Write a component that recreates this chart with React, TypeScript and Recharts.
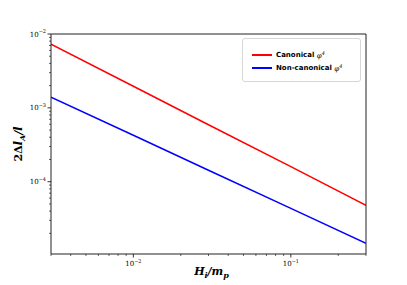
import React from 'react';
import { LineChart, Line, XAxis, YAxis, Legend } from 'recharts';

// H_i / m_p
const hValues = [0.003, 0.01, 0.03, 0.1, 0.3];
const canonical = [7.3e-3, 1.96e-3, 5.9e-4, 1.6e-4, 4.8e-5];
const nonCanonical = [1.4e-3, 4.25e-4, 1.43e-4, 4.35e-5, 1.47e-5];

const xTicks = [
  0.003, 0.004, 0.005, 0.006, 0.007, 0.008, 0.009,
  0.01, 0.02, 0.03, 0.04, 0.05, 0.06, 0.07, 0.08, 0.09,
  0.1, 0.2, 0.3,
];
const yTicks = [
  2e-5, 3e-5, 4e-5, 5e-5, 6e-5, 7e-5, 8e-5, 9e-5,
  1e-4, 2e-4, 3e-4, 4e-4, 5e-4, 6e-4, 7e-4, 8e-4, 9e-4,
  1e-3, 2e-3, 3e-3, 4e-3, 5e-3, 6e-3, 7e-3, 8e-3, 9e-3,
  1e-2,
];

const data = hValues.map((h, i) => ({ h, canonical: canonical[i], nonCanonical: nonCanonical[i] }));

const serif = '"DejaVu Serif", "Liberation Serif", serif';

const isDecade = (v: number) => Math.abs(Math.log10(v) - Math.round(Math.log10(v))) < 1e-6;
const expText = (v: number) => String(Math.round(Math.log10(v))).replace('-', '\u2212');

const XTick = ({ x, y, payload }: any) => {
  const major = isDecade(payload.value);
  return (
    <g>
      <line x1={x} x2={x} y1={y} y2={y + (major ? 3.5 : 2)} stroke="#000" strokeWidth={major ? 0.8 : 0.6} />
      {major && (
        <text x={x} y={y + 12} textAnchor="middle" fontSize={7} fontFamily={serif} fill="#000">
          10<tspan dy={-3.5} fontSize={5}>{expText(payload.value)}</tspan>
        </text>
      )}
    </g>
  );
};

const YTick = ({ x, y, payload }: any) => {
  const major = isDecade(payload.value);
  return (
    <g>
      <line x1={x} x2={x - (major ? 3.5 : 2)} y1={y} y2={y} stroke="#000" strokeWidth={major ? 0.8 : 0.6} />
      {major && (
        <text x={x - 5} y={y + 2.5} textAnchor="end" fontSize={7} fontFamily={serif} fill="#000">
          10<tspan dy={-3.5} fontSize={5}>{expText(payload.value)}</tspan>
        </text>
      )}
    </g>
  );
};

const XLabel = ({ viewBox }: any) => {
  const cx = viewBox.x + viewBox.width / 2 + 3;
  return (
    <text x={cx} y={viewBox.y + 21} textAnchor="middle" fontFamily={serif} fontWeight="bold" fontStyle="italic" fontSize={11} fill="#000">
      H<tspan dy={2.5} fontSize={8}>i</tspan><tspan dy={-2.5}>/m</tspan><tspan dy={2.5} fontSize={8}>p</tspan>
    </text>
  );
};

const YLabel = ({ viewBox }: any) => {
  const cy = viewBox.y + viewBox.height / 2;
  const lx = 22;
  return (
    <text x={lx} y={cy} transform={`rotate(-90 ${lx} ${cy})`} textAnchor="middle" fontFamily={serif} fontWeight="bold" fontSize={11} fill="#000">
      2Δ<tspan fontStyle="italic">l</tspan><tspan dy={2.5} fontSize={8} fontStyle="italic">A</tspan><tspan dy={-2.5} fontStyle="italic">/l</tspan>
    </text>
  );
};

const LegendBox = ({ payload }: any) => (
  <div style={{ width: 119, height: 44, border: '1px solid #d6d6d6', borderRadius: 3, background: '#fff', boxSizing: 'border-box', paddingTop: 9 }}>
    {(payload || []).map((item: any) => (
      <div key={item.value} style={{ display: 'flex', alignItems: 'center', height: 13 }}>
        <div style={{ width: 20, height: 2, background: item.color, marginLeft: 9, marginRight: 4 }} />
        <span style={{ fontFamily: '"DejaVu Sans", sans-serif', fontWeight: 'bold', fontSize: 7, color: '#000', whiteSpace: 'nowrap' }}>
          {item.value} <span style={{ fontFamily: serif, fontStyle: 'italic', fontWeight: 'normal' }}>φ<sup style={{ fontSize: 5 }}>4</sup></span>
        </span>
      </div>
    ))}
  </div>
);

export default function App() {
  return (
    <div style={{ position: 'absolute', left: 0, top: 0, width: 407, height: 285, background: '#fff' }}>
      <LineChart width={407} height={285} data={data} margin={{ top: 0, right: 0, bottom: 0, left: 0 }}>
        <XAxis
          dataKey="h"
          type="number"
          scale="log"
          domain={[0.003, 0.3]}
          allowDataOverflow
          ticks={xTicks}
          interval={0}
          height={31}
          tickSize={0}
          tickMargin={0}
          tickLine={false}
          tick={<XTick />}
          axisLine={{ stroke: '#222', strokeWidth: 1 }}
          label={<XLabel />}
        />
        <XAxis xAxisId="top" orientation="top" dataKey="h" type="number" scale="log" domain={[0.003, 0.3]} allowDataOverflow height={34} tick={false} tickLine={false} axisLine={{ stroke: '#222', strokeWidth: 1 }} />
        <YAxis
          type="number"
          scale="log"
          domain={[1.05e-5, 1e-2]}
          allowDataOverflow
          ticks={yTicks}
          interval={0}
          width={51}
          tickSize={0}
          tickMargin={0}
          tickLine={false}
          tick={<YTick />}
          axisLine={{ stroke: '#222', strokeWidth: 1 }}
          label={<YLabel />}
        />
        <YAxis yAxisId="right" orientation="right" type="number" scale="log" domain={[1.05e-5, 1e-2]} allowDataOverflow width={41} tick={false} tickLine={false} axisLine={{ stroke: '#222', strokeWidth: 1 }} />
        <Legend
          layout="vertical"
          align="center"
          verticalAlign="middle"
          wrapperStyle={{ left: 242, top: 38, width: 119 }}
          content={<LegendBox />}
        />
        <Line dataKey="canonical" name="Canonical" stroke="#ff0000" strokeWidth={1.5} dot={false} isAnimationActive={false} />
        <Line dataKey="nonCanonical" name="Non-canonical" stroke="#0000ff" strokeWidth={1.5} dot={false} isAnimationActive={false} />
      </LineChart>
    </div>
  );
}
